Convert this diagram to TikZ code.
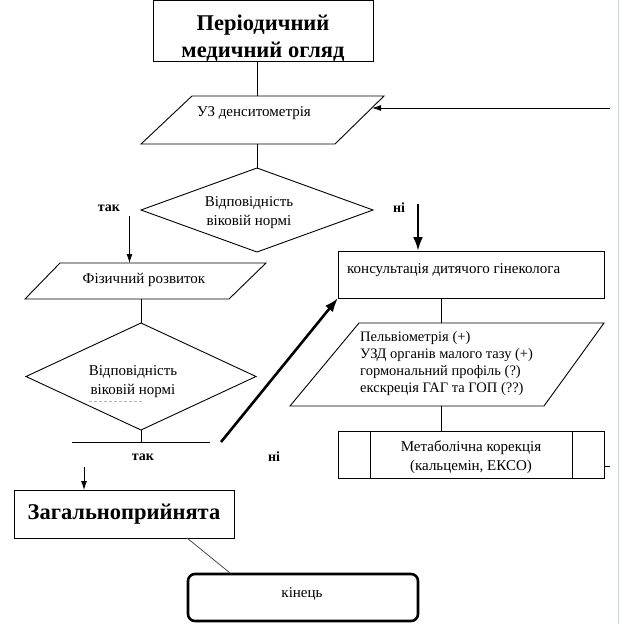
\documentclass[tikz,border=0pt]{standalone}
\usepackage{fontspec}
\setmainfont{Liberation Serif}
\usetikzlibrary{shapes.geometric,arrows.meta,calc}
\begin{document}
\begin{tikzpicture}[x=1pt,y=-1pt,
  ln/.style={line width=0.9pt,black},
  box/.style={draw,line width=0.9pt,rectangle,inner sep=0pt,outer sep=0pt},
  dia/.style={draw,line width=0.9pt,diamond,inner sep=0pt,outer sep=0pt},
  txt/.style={font=\fontsize{15}{19}\selectfont,inner sep=0pt,align=center},
  big/.style={font=\fontsize{22.5}{27}\selectfont\bfseries,inner sep=0pt,align=center},
  lab/.style={font=\fontsize{14}{17}\selectfont\bfseries,inner sep=0pt},
  thinarrow/.style={ln,-{Latex[length=9pt,width=6pt]}},
  thickarrow/.style={line width=2.6pt,-{Latex[length=14pt,width=10pt]}}
]
\useasboundingbox (0,0) rectangle (624,624);
\fill[white] (0,0) rectangle (624,624);
\draw[line width=1.4pt,color={rgb,255:red,195;green,210;blue,228}] (618.5,0) -- (618.5,624);

% top box
\node[box,minimum width=220pt,minimum height=61pt] (top) at (263,30.5) {};
\node[big] (topt) at (263,38) {Періодичний\\медичний огляд};

% US densitometry parallelogram
\draw[ln] (192,96) -- (384,96) -- (335,144) -- (141,144) -- cycle;
\node[txt] (uz) at (254,113) {УЗ денситометрія};
\coordinate (uzT) at (257,96);
\coordinate (uzB) at (257,144);
\coordinate (uzR) at (372,108);
\coordinate (fb) at (610,108);
\draw[ln] (top.south -| uzT) -- (uzT);
\draw[thinarrow] (fb) -- (uzR);

% diamond 1
\node[dia,minimum width=232pt,minimum height=84pt] (d1) at (257,210) {};
\node[txt] (d1t) at (249,213) {Відповідність\\віковій нормі};
\draw[ln] (uzB) -- (d1.north);
\node[lab] (yes1) at (109,208) {так};
\node[lab] (no1) at (399,208) {ні};

% physical development parallelogram
\draw[ln] (60,263) -- (266,263) -- (229,299) -- (25,299) -- cycle;
\node[txt] (fiz) at (144,280) {Фізичний розвиток};
\coordinate (fizT) at (129.5,263);
\coordinate (fizB) at (141,299);
\coordinate (yes1s) at (129.5,216);
\draw[thinarrow] (yes1s) -- (fizT);

% diamond 2
\node[dia,minimum width=230pt,minimum height=107pt] (d2) at (141,376.5) {};
\node[txt] (d2t) at (133,382) {Відповідність\\віковій нормі};
\draw[densely dashed,line width=0.6pt,gray!60] (89,401) -- (142,401);
\draw[ln] (fizB) -- (d2.north);
\coordinate (br) at (141,442);
\draw[ln] (d2.south) -- (br);
\draw[ln] (72,442) -- (210,442);
\node[lab] (yes2) at (143,457) {так};
\node[lab] (no2) at (274,457) {ні};

% generally accepted box
\node[box,minimum width=220pt,minimum height=48pt] (zag) at (124,514) {};
\node[big] (zagt) at (124,514) {Загальноприйнята};
\coordinate (yes2s) at (84,467);
\draw[thinarrow] (yes2s) -- (yes2s |- zag.north);

% end
\node[draw,line width=2.6pt,rounded corners=7pt,minimum width=230pt,minimum height=47pt,inner sep=0pt] (end) at (303,597.5) {};
\node[txt] (endt) at (302,594) {кінець};
\draw[line width=0.8pt,black!70] ($(zag.south west)+(173,0)$) -- ($(end.north west)+(43,0)$);

% consultation box
\node[box,minimum width=266pt,minimum height=47pt] (kons) at (471,274.5) {};
\node[txt,anchor=west] (konst) at (347,270) {консультація дитячого гінеколога};
\coordinate (no1s) at (418,204);
\draw[thickarrow] (no1s) -- (no1s |- kons.north);
\coordinate (no2s) at (221,442);
\draw[thickarrow] (no2s) -- (kons.south west);

% examinations parallelogram
\coordinate (pT) at (441,323);
\coordinate (pB) at (441,406);
\draw[ln] (359,323) -- (604,323) -- (544,406) -- (290,406) -- cycle;
\node[txt,anchor=west,align=left,font=\fontsize{14.5}{17}\selectfont] (pt) at (360,364) {Пельвіометрія (+)\\УЗД органів малого тазу (+)\\гормональний профіль (?)\\екскреція ГАГ та ГОП (??)};
\draw[ln] (kons.south -| pT) -- (pT);

% metabolic correction
\node[box,minimum width=266pt,minimum height=47pt] (meta) at (471,454.5) {};
\draw[ln] (370,431) -- (370,478);
\draw[ln] (572,431) -- (572,478);
\node[txt] (metat) at (471,457) {Метаболічна корекція\\(кальцемін, ЕКСО)};
\draw[ln] (pB) -- (pB |- meta.north);
\coordinate (mt) at (610,466);
\draw[ln] (meta.east |- mt) -- (mt);
\end{tikzpicture}
\end{document}
